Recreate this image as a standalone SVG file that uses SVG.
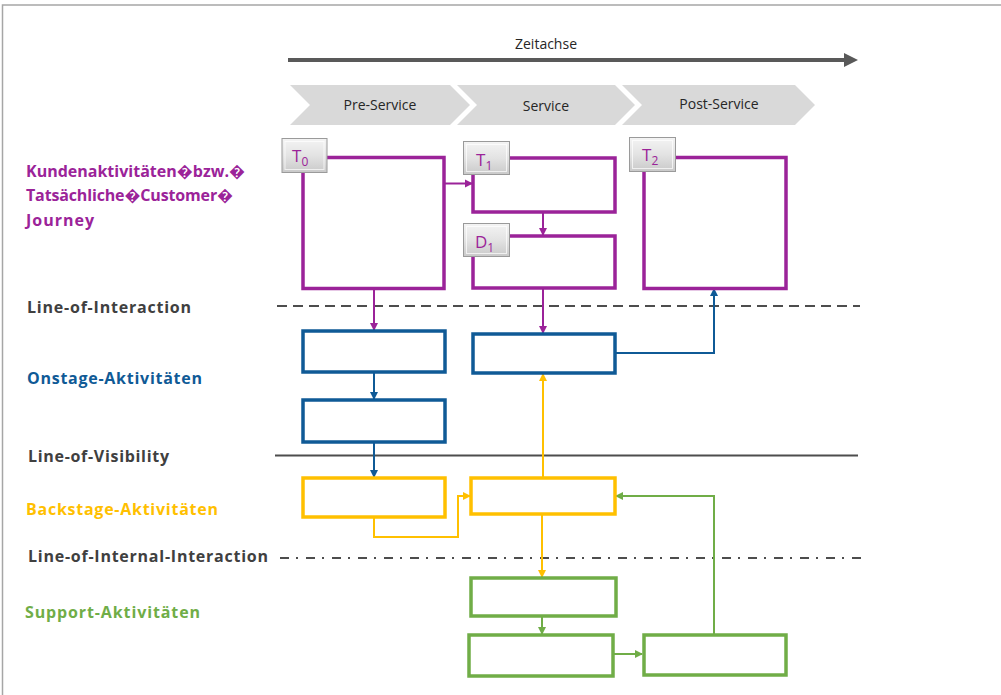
<svg xmlns="http://www.w3.org/2000/svg" width="1001" height="695" viewBox="0 0 1001 695">
  <style>
    .lbl { font-family: "Open Sans", "Liberation Sans", sans-serif; font-weight: bold; font-size: 16px; }
    .head { font-family: "Open Sans", "Liberation Sans", sans-serif; font-size: 14px; fill: #262626; text-anchor: middle; }
    .btn-t { font-family: "Open Sans", "Liberation Sans", sans-serif; font-size: 17px; fill: #9b2399; }
    .sub { font-size: 12px; }
    .pbox { fill: none; stroke: #9b2399; stroke-width: 3.5; }
    .bbox { fill: none; stroke: #0f5a96; stroke-width: 3.5; }
    .ybox { fill: none; stroke: #ffc000; stroke-width: 3.5; }
    .gbox { fill: none; stroke: #70ad47; stroke-width: 3.5; }
    .chev { fill: #d9d9d9; }
    .sep { fill: none; stroke: #4d4d4d; stroke-width: 2.2; }
    .pc { fill: none; stroke: #9b2399; stroke-width: 2; marker-end: url(#ap); }
    .bc { fill: none; stroke: #0f5a96; stroke-width: 2; marker-end: url(#ab); }
    .yc { fill: none; stroke: #ffc000; stroke-width: 2; marker-end: url(#ay); }
    .gc { fill: none; stroke: #70ad47; stroke-width: 2; marker-end: url(#ag); }
  </style>
  <defs>
    <marker id="ap" markerUnits="userSpaceOnUse" markerWidth="10" markerHeight="10" refX="8" refY="5" orient="auto"><path d="M1,1 L9,5 L1,9 Z" fill="#9b2399"/></marker>
    <marker id="ab" markerUnits="userSpaceOnUse" markerWidth="10" markerHeight="10" refX="8" refY="5" orient="auto"><path d="M1,1 L9,5 L1,9 Z" fill="#0f5a96"/></marker>
    <marker id="ay" markerUnits="userSpaceOnUse" markerWidth="10" markerHeight="10" refX="8" refY="5" orient="auto"><path d="M1,1 L9,5 L1,9 Z" fill="#ffc000"/></marker>
    <marker id="ag" markerUnits="userSpaceOnUse" markerWidth="10" markerHeight="10" refX="8" refY="5" orient="auto"><path d="M1,1 L9,5 L1,9 Z" fill="#70ad47"/></marker>
    <linearGradient id="bevel" x1="0" y1="0" x2="0" y2="1">
      <stop offset="0" stop-color="#f4f4f4"/>
      <stop offset="0.5" stop-color="#e3e3e3"/>
      <stop offset="1" stop-color="#c9c9c9"/>
    </linearGradient>
  </defs>

  <!-- frame -->
  <path d="M2.5,695 V5 H1001" fill="none" stroke="#a6a6a6" stroke-width="1.5"/>

  <!-- time axis -->
  <g id="zeitachse">
    <line x1="288" y1="60" x2="846" y2="60" stroke="#595959" stroke-width="4"/>
    <path d="M844,53 L858,60 L844,67 Z" fill="#595959"/>
    <text class="head" x="546" y="49">Zeitachse</text>
  </g>

  <!-- phase chevrons -->
  <g id="phase-pre">
    <path class="chev" d="M290,85 H450 L470,105 L450,125 H290 L310,105 Z"/>
    <text class="head" x="380" y="110">Pre-Service</text>
  </g>
  <g id="phase-service">
    <path class="chev" d="M457,85 H615 L635,105 L615,125 H457 L477,105 Z"/>
    <text class="head" x="546" y="111">Service</text>
  </g>
  <g id="phase-post">
    <path class="chev" d="M622,85 H795 L815,105 L795,125 H622 L642,105 Z"/>
    <text class="head" x="719" y="109">Post-Service</text>
  </g>

  <!-- swimlane labels -->
  <g id="lane-labels">
    <text class="lbl" fill="#9b2399" x="26" y="177" textLength="219" lengthAdjust="spacing">Kundenaktivitäten�bzw.�</text>
    <text class="lbl" fill="#9b2399" x="26" y="201" textLength="207" lengthAdjust="spacing">Tatsächliche�Customer�</text>
    <text class="lbl" fill="#9b2399" x="26" y="226" textLength="68" lengthAdjust="spacing">Journey</text>
    <text class="lbl" fill="#404040" x="27" y="313" textLength="164" lengthAdjust="spacing">Line-of-Interaction</text>
    <text class="lbl" fill="#0f5a96" x="27" y="384" textLength="175" lengthAdjust="spacing">Onstage-Aktivitäten</text>
    <text class="lbl" fill="#404040" x="28" y="462" textLength="141" lengthAdjust="spacing">Line-of-Visibility</text>
    <text class="lbl" fill="#ffc000" x="26" y="515" textLength="192" lengthAdjust="spacing">Backstage-Aktivitäten</text>
    <text class="lbl" fill="#404040" x="28" y="562" textLength="240" lengthAdjust="spacing">Line-of-Internal-Interaction</text>
    <text class="lbl" fill="#70ad47" x="25" y="618" textLength="175" lengthAdjust="spacing">Support-Aktivitäten</text>
  </g>

  <!-- separator lines -->
  <g id="separators">
    <line class="sep" x1="277" y1="306" x2="860" y2="306" stroke-dasharray="10 6"/>
    <line class="sep" x1="275" y1="455.5" x2="858" y2="455.5" stroke-width="2"/>
    <line class="sep" x1="280" y1="558" x2="862" y2="558" stroke-dasharray="9 7 2 8"/>
  </g>

  <!-- connectors -->
  <g id="connectors">
    <path class="pc" d="M444,183.5 H472"/>
    <path class="pc" d="M543,212 V235"/>
    <path class="pc" d="M374,289 V330"/>
    <path class="pc" d="M543,289 V333"/>
    <path class="bc" d="M374,372 V399"/>
    <path class="bc" d="M615,353 H714 V289"/>
    <path class="bc" d="M374,442 V477"/>
    <path class="yc" d="M543,478 V374"/>
    <path class="yc" d="M374,517 V537 H458 V496 H470"/>
    <path class="yc" d="M542,514 V577"/>
    <path class="gc" d="M542,616 V634"/>
    <path class="gc" d="M613,654 H642"/>
    <path class="gc" d="M714,635 V496 H616"/>
  </g>

  <!-- customer activities -->
  <g id="kunde-t0">
    <rect class="pbox" x="303" y="157.5" width="141" height="131"/>
    <rect x="282" y="138.5" width="45" height="34" fill="url(#bevel)" stroke="#9a9a9a" stroke-width="1"/>
    <rect x="285" y="141.5" width="39" height="28" fill="none" stroke="#ffffff" stroke-opacity="0.7" stroke-width="1"/>
    <text class="btn-t" x="292" y="162">T<tspan class="sub" dy="4">0</tspan></text>
  </g>
  <g id="kunde-t1">
    <rect class="pbox" x="473" y="158" width="142" height="54"/>
    <rect x="463.5" y="141.5" width="46" height="33" fill="url(#bevel)" stroke="#9a9a9a" stroke-width="1"/>
    <rect x="466.5" y="144.5" width="40" height="27" fill="none" stroke="#ffffff" stroke-opacity="0.7" stroke-width="1"/>
    <text class="btn-t" x="476" y="166">T<tspan class="sub" dy="4">1</tspan></text>
  </g>
  <g id="kunde-d1">
    <rect class="pbox" x="473" y="236" width="142" height="52"/>
    <rect x="463.5" y="223.5" width="46" height="33" fill="url(#bevel)" stroke="#9a9a9a" stroke-width="1"/>
    <rect x="466.5" y="226.5" width="40" height="27" fill="none" stroke="#ffffff" stroke-opacity="0.7" stroke-width="1"/>
    <text class="btn-t" x="475" y="248">D<tspan class="sub" dy="4">1</tspan></text>
  </g>
  <g id="kunde-t2">
    <rect class="pbox" x="644" y="157.5" width="142" height="131"/>
    <rect x="629.5" y="137.5" width="46" height="34" fill="url(#bevel)" stroke="#9a9a9a" stroke-width="1"/>
    <rect x="632.5" y="140.5" width="40" height="28" fill="none" stroke="#ffffff" stroke-opacity="0.7" stroke-width="1"/>
    <text class="btn-t" x="642" y="161">T<tspan class="sub" dy="4">2</tspan></text>
  </g>

  <!-- onstage activities -->
  <g id="onstage-1"><rect class="bbox" x="303" y="331" width="142" height="41"/></g>
  <g id="onstage-2"><rect class="bbox" x="303" y="400" width="142" height="42"/></g>
  <g id="onstage-3"><rect class="bbox" x="473" y="334" width="142" height="39"/></g>

  <!-- backstage activities -->
  <g id="backstage-1"><rect class="ybox" x="303" y="478" width="142" height="39"/></g>
  <g id="backstage-2"><rect class="ybox" x="471" y="478" width="144" height="36"/></g>

  <!-- support activities -->
  <g id="support-1"><rect class="gbox" x="471" y="578" width="145" height="38"/></g>
  <g id="support-2"><rect class="gbox" x="469" y="635" width="144" height="41"/></g>
  <g id="support-3"><rect class="gbox" x="644" y="635" width="142" height="40"/></g>
</svg>
